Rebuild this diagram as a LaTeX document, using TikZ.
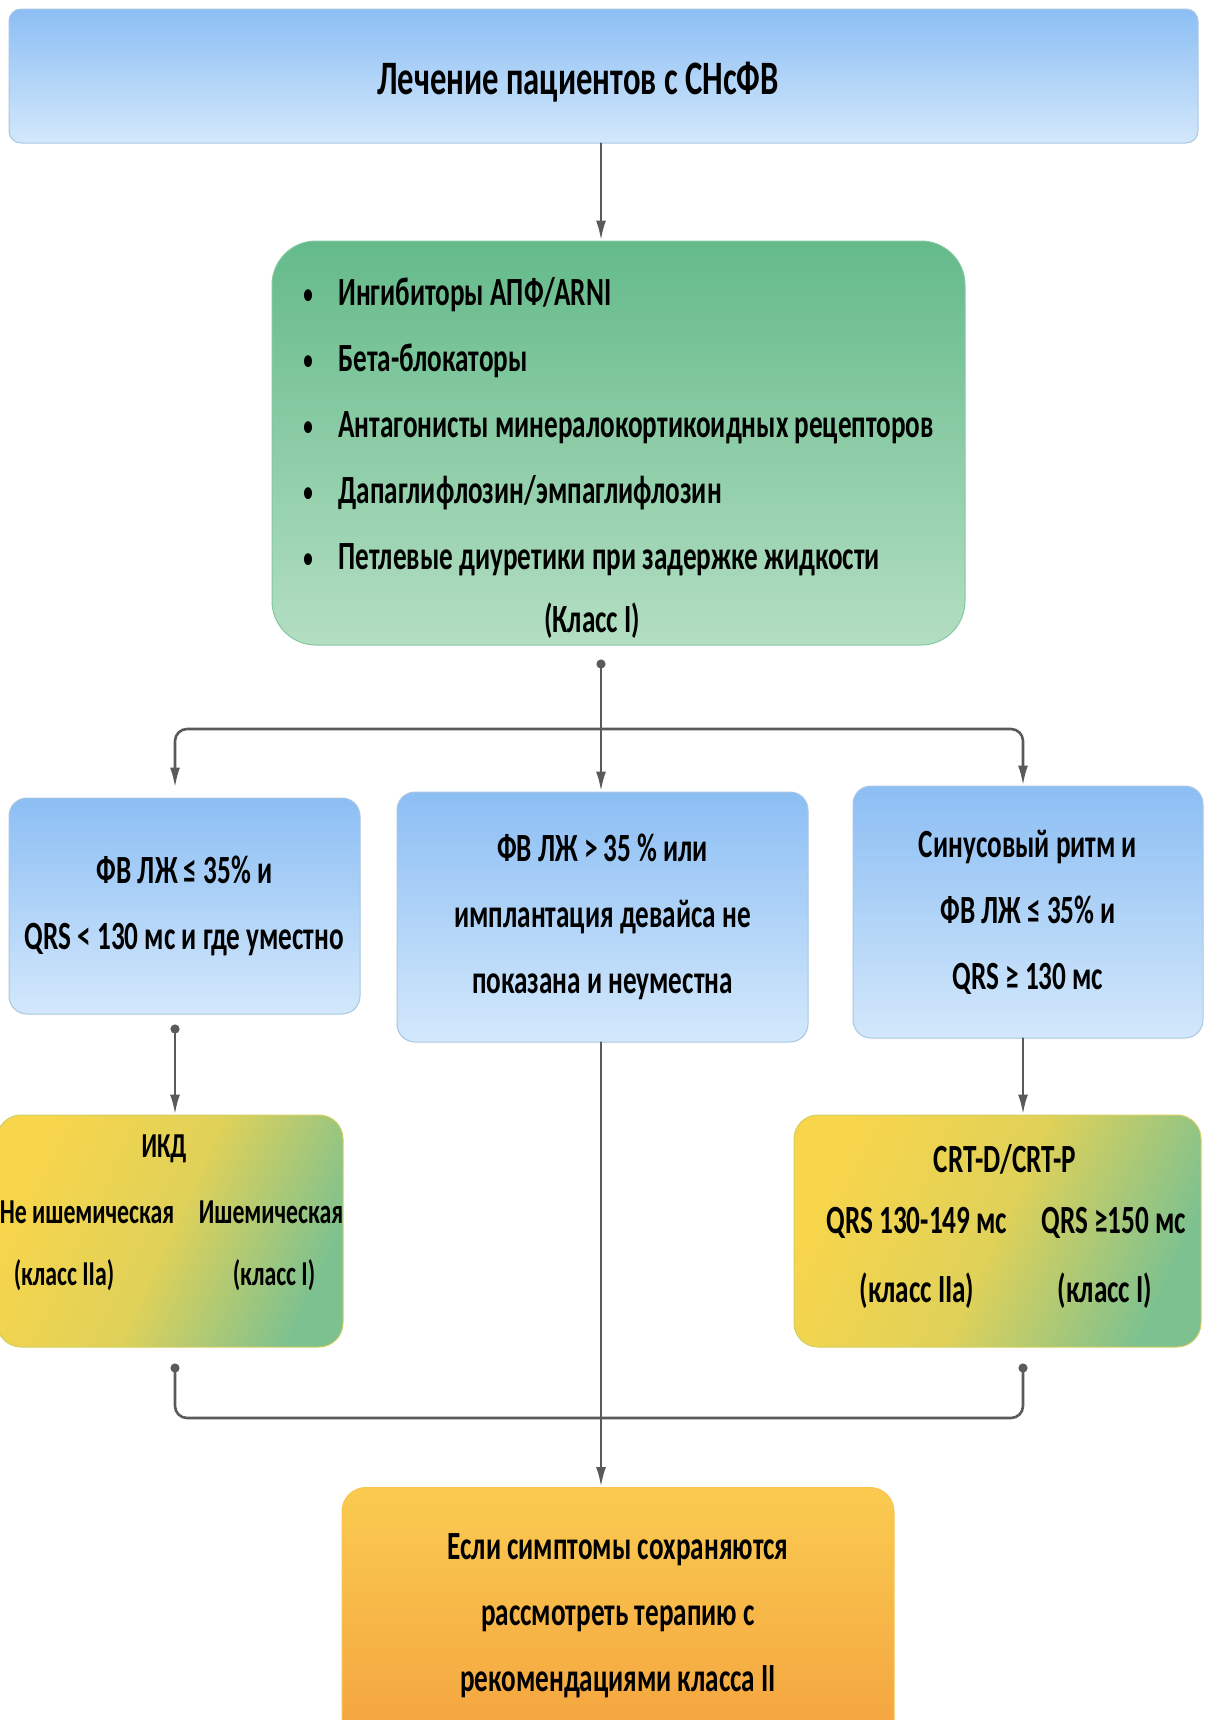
\documentclass[tikz,border=0pt]{standalone}
\usepackage{fontspec}
\setmainfont{Carlito}[FakeStretch=0.68]
\usetikzlibrary{arrows.meta,positioning}

\definecolor{bluetop}{HTML}{8CBEF4}
\definecolor{bluebot}{HTML}{D3E8FB}
\definecolor{bluerim}{HTML}{A9C6E2}
\definecolor{greentop}{HTML}{64BA8A}
\definecolor{greenbot}{HTML}{B3DEC2}
\definecolor{ylw}{HTML}{F8D54B}
\definecolor{ylwgreen}{HTML}{7DC190}
\definecolor{orgtop}{HTML}{FACB50}
\definecolor{orgbot}{HTML}{F4A33F}
\definecolor{linegray}{HTML}{5A5A5A}

\tikzset{
  card/.style={rectangle, inner sep=0pt, line width=0.5pt, align=center,
    font=\bfseries\fontsize{20}{33}\selectfont},
  bluecard/.style={card, rounded corners=9pt, draw=bluerim,
    top color=bluetop, bottom color=bluebot},
  greencard/.style={card, rounded corners=22pt, draw=greentop!80!white,
    top color=greentop, bottom color=greenbot},
  ylwcard/.style={card, rounded corners=12pt, draw=ylw!70!ylwgreen,
    top color=ylw, bottom color=ylwgreen, middle color=ylw!80!ylwgreen,
    shading angle=65},
  orgcard/.style={card, rounded corners=12pt, draw=orgtop!80!orgbot,
    top color=orgtop, bottom color=orgbot},
  txt/.style={inner sep=0pt, font=\bfseries\fontsize{20}{33}\selectfont},
  smalltxt/.style={inner sep=0pt, font=\bfseries\fontsize{17.5}{30}\selectfont},
  wire/.style={draw=linegray, line width=1.3pt},
  conn/.style={wire, -{Latex[length=10pt,width=5pt]}},
  dotconn/.style={wire, {Circle[length=4.5pt]}-{Latex[length=10pt,width=5pt]}},
}

\begin{document}
\begin{tikzpicture}[x=0.5pt, y=-0.5pt, line cap=round, line join=round]

\useasboundingbox (0,0) rectangle (1205,1720);

% -----------------------
% Columns of the connectors
% -----------------------
\coordinate (cmid)   at (601,0);
\coordinate (cleft)  at (175,0);
\coordinate (cright) at (1023,0);
\coordinate (split)  at (601,729);
\coordinate (join)   at (601,1418);

% -----------------------
% Title
% -----------------------
\node[bluecard, rounded corners=6pt, minimum width=594.5pt, minimum height=67pt] (head) at (603.5,76) {};
\node[txt, font=\bfseries\fontsize{24}{28}\selectfont] (headtext) at (578,82) {Лечение пациентов с СНсФВ};

% -----------------------
% Class I drugs
% -----------------------
\node[greencard, minimum width=346.5pt, minimum height=202pt] (drugs) at (618.5,443) {};
\foreach \t [count=\i] in {{Ингибиторы АПФ/ARNI}, {Бета-блокаторы},
    {Антагонисты минералокортикоидных рецепторов}, {Дапаглифлозин/эмпаглифлозин},
    {Петлевые диуретики при задержке жидкости}}{
  \node[txt, anchor=base west] (item\i) at (303,{239+66*\i}) {\makebox[17.5pt][l]{\raisebox{1pt}{\scalebox{0.7}{•}}}\t};
}
\node[txt, anchor=base] (classone) at (592,632) {(Класс I)};

% -----------------------
% Conditions
% -----------------------
\node[bluecard, minimum width=175.5pt, minimum height=108pt] (lcond) at (184.5,906)
  {ФВ ЛЖ ≤ 35\% и\\QRS < 130 мс и где уместно};
\node[bluecard, minimum width=205.5pt, minimum height=125pt] (mcond) at (602.5,917)
  {ФВ ЛЖ > 35 \% или\\имплантация девайса не\\показана и неуместна};
\node[bluecard, minimum width=175pt, minimum height=126pt] (rcond) at (1028,912)
  {Синусовый ритм и\\ФВ ЛЖ ≤ 35\% и\\QRS ≥ 130 мс};

% -----------------------
% Devices
% -----------------------
\node[ylwcard, minimum width=173pt, minimum height=116pt] (icd) at (170,1231) {};
\node[smalltxt] (icdhead) at (164,1149) {ИКД};
\node[smalltxt] (nonisch) at (87,1212) {Не ишемическая};
\node[smalltxt] (isch) at (271,1212) {Ишемическая};
\node[smalltxt] (icdtwo) at (64,1275) {(класс IIa)};
\node[smalltxt] (icdone) at (274,1275) {(класс I)};

\node[ylwcard, minimum width=203.5pt, minimum height=116pt] (crt) at (997.5,1231) {};
\node[txt] (crthead) at (1005,1159) {CRT-D/CRT-P};
\node[txt] (qrsmid) at (917,1223) {QRS 130-149 мс};
\node[txt] (qrswide) at (1114,1223) {QRS ≥150 мс};
\node[txt] (crttwo) at (917,1291) {(класс IIa)};
\node[txt] (crtone) at (1105,1291) {(класс I)};

% -----------------------
% Persisting symptoms
% -----------------------
\node[orgcard, minimum width=276pt, minimum height=128.5pt] (persist) at (618,1616)
  {Если симптомы сохраняются\\рассмотреть терапию с\\рекомендациями класса II};

% -----------------------
% Connectors
% -----------------------
\draw[conn] (head.south -| cmid) -- (drugs.north -| cmid);
\draw[wire, {Circle[length=4.5pt]}-, shorten <=7pt] (drugs.south -| cmid) -- (split);
\draw[conn, rounded corners=6pt, shorten >=5pt] (split) -| (lcond.north -| cleft);
\draw[conn] (split) -- (mcond.north -| cmid);
\draw[conn, rounded corners=6pt] (split) -| (rcond.north -| cright);

\draw[dotconn, shorten <=5pt] (lcond.south -| cleft) -- (icd.north -| cleft);
\draw[conn] (rcond.south -| cright) -- (crt.north -| cright);
\draw[conn] (mcond.south -| cmid) -- (persist.north -| cmid);

\draw[wire, {Circle[length=4.5pt]}-, shorten <=8pt, rounded corners=6pt] (icd.south -| cleft) |- (join);
\draw[wire, {Circle[length=4.5pt]}-, shorten <=8pt, rounded corners=6pt] (crt.south -| cright) |- (join);

\end{tikzpicture}
\end{document}
